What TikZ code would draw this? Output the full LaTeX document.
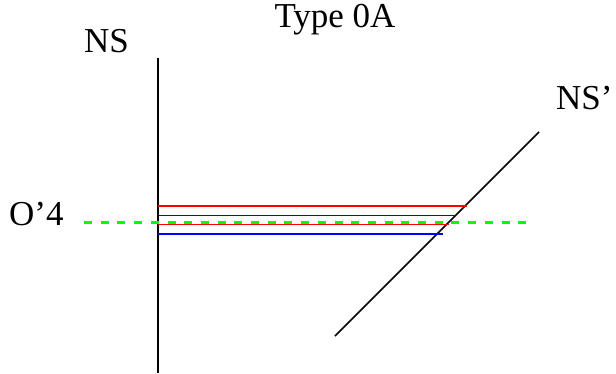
\documentclass[tikz,border=0pt]{standalone}
\usepackage{fontspec}
\setmainfont{Liberation Serif}
\usetikzlibrary{positioning}

\begin{document}
\begin{tikzpicture}[
  x=1pt, y=-1pt,
  % text and line styles
  lbl/.style={font=\fontsize{35}{42}\selectfont, inner sep=0pt, anchor=base west},
  sheet/.style={line width=1.5pt, black},
  level/.style={line width=1.5pt},
  guide/.style={line width=3pt, green, dash pattern=on 8pt off 8.7pt}
]
\useasboundingbox (0,0) rectangle (616,373);

% Labels
\node[lbl, anchor=base] (title) at (335,27) {Type 0A};
\node[lbl] (ns) at (84,52) {NS};
\node[lbl] (nsp) at (556,109) {NS’};
\node[lbl] (o4) at (9,225) {O’4};

% Sheets
\coordinate (nsTop) at (158,58);
\coordinate (nsBot) at (158,373);
\coordinate (nspBot) at (335,336);
\coordinate (nspTop) at (539,132);
\draw[sheet] (nsTop) -- (nsBot);
\draw[sheet] (nspBot) -- (nspTop);

% Field lines
\coordinate (r1a) at (158,206);   \coordinate (r1b) at (467,206);
\coordinate (b1a) at (158,215.3); \coordinate (b1b) at (455,215.3);
\coordinate (r2a) at (158,224.3); \coordinate (r2b) at (449,224.3);
\coordinate (b2a) at (158,234);   \coordinate (b2b) at (443,234);
\draw[level, red] (r1a) -- (r1b);
\draw[level, blue] (b1a) -- (b1b);
\draw[level, red] (r2a) -- (r2b);
\draw[level, blue] (b2a) -- (b2b);

% O'4 guide
\coordinate (gA) at (84,222);
\coordinate (gB) at (530,222);
\draw[guide] (gA) -- (gB);

\end{tikzpicture}
\end{document}
